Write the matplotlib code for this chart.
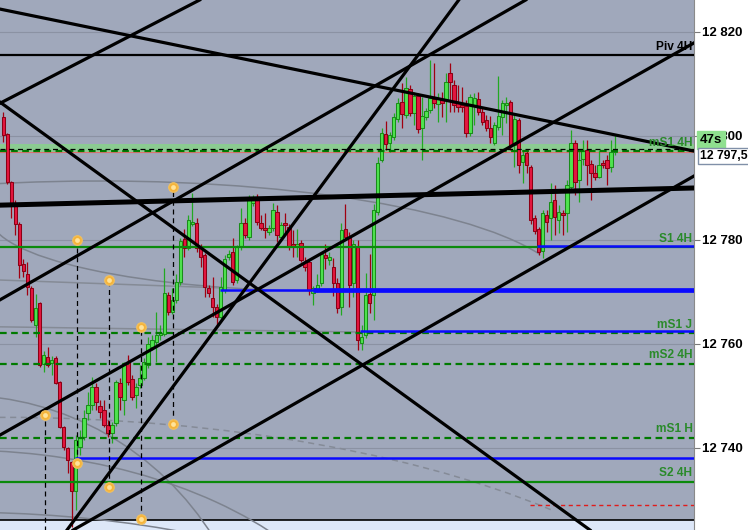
"""Intraday candlestick chart with pivot levels, trend lines and arcs."""

import matplotlib

matplotlib.use("Agg")

import matplotlib.pyplot as plt
import numpy as np
from matplotlib.patches import Arc, Rectangle
from matplotlib.ticker import FixedLocator, FuncFormatter

plt.rcParams["font.family"] = ["Liberation Sans", "DejaVu Sans"]

# candle prices, one entry per bar (bar index = position in list)
OPEN = [
    12803.7, 12800.4, 12791.2, 12787.1, 12783.1, 12775.4, 12773.5, 12770.8, 12763.7, 12767.9,
    12756.2, 12757.5, 12756.3, 12757.3, 12752.7, 12744.0, 12740.0, 12737.3, 12731.7, 12740.2,
    12742.1, 12746.7, 12748.3, 12751.7, 12748.1, 12747.3, 12744.4, 12742.9, 12744.8, 12752.5,
    12749.2, 12756.5, 12753.3, 12750.2, 12752.1, 12753.5, 12756.0, 12759.4, 12760.4, 12761.7,
    12761.9, 12769.4, 12766.2, 12768.5, 12771.9, 12780.2, 12778.5, 12783.1, 12783.3, 12778.7,
    12777.1, 12770.8, 12768.8, 12767.1, 12765.2, 12770.4, 12776.7, 12777.7, 12772.3, 12778.7,
    12783.3, 12780.6, 12787.1, 12787.7, 12783.3, 12782.3, 12781.5, 12782.3, 12785.4, 12780.6,
    12783.3, 12782.5, 12779.2, 12778.8, 12779.4, 12775.8, 12775.8, 12769.8, 12770.4, 12771.7,
    12777.1, 12776.2, 12774.8, 12771.7, 12767.1, 12782.1, 12780.6, 12771.7, 12778.7, 12760.2,
    12761.7, 12769.6, 12769.4, 12785.4, 12795.4, 12800.4, 12798.7, 12799.8, 12803.3, 12806.5,
    12804.0, 12809.0, 12804.4, 12807.7, 12801.5, 12803.7, 12805.0, 12807.1, 12806.2, 12807.1,
    12807.1, 12812.1, 12809.8, 12806.3, 12806.0, 12805.8, 12800.6, 12806.0, 12807.1, 12804.6,
    12803.1, 12801.5, 12798.7, 12801.7, 12803.7, 12806.0, 12806.5, 12798.3, 12803.1, 12795.0,
    12796.7, 12794.0, 12784.2, 12782.1, 12777.9, 12784.8, 12784.2, 12787.7, 12783.8, 12785.2,
    12785.2, 12790.2, 12798.7, 12791.5, 12795.6, 12797.3, 12794.6, 12792.9, 12792.1, 12794.8,
    12795.4, 12794.0, 12796.9,
]
HIGH = [
    12804.6, 12800.6, 12791.3, 12787.7, 12783.5, 12776.3, 12775.8, 12771.2, 12769.6, 12768.1,
    12758.7, 12759.4, 12757.7, 12757.7, 12752.9, 12744.2, 12740.2, 12737.5, 12742.5, 12743.5,
    12747.3, 12750.8, 12753.7, 12752.5, 12749.2, 12749.2, 12745.4, 12745.0, 12753.1, 12753.5,
    12756.5, 12757.9, 12754.0, 12752.5, 12756.0, 12757.3, 12761.3, 12761.7, 12766.2, 12763.7,
    12774.6, 12770.0, 12770.8, 12773.5, 12780.4, 12782.1, 12784.8, 12789.0, 12784.2, 12779.2,
    12777.5, 12771.3, 12772.9, 12767.7, 12772.9, 12777.1, 12778.1, 12780.4, 12779.0, 12786.2,
    12784.2, 12788.7, 12788.7, 12788.8, 12784.8, 12785.2, 12782.9, 12787.1, 12786.7, 12783.5,
    12785.2, 12783.1, 12781.9, 12782.1, 12780.0, 12776.7, 12776.2, 12771.2, 12773.5, 12777.7,
    12779.2, 12777.7, 12776.5, 12772.7, 12783.3, 12786.9, 12781.5, 12780.0, 12780.0, 12763.7,
    12773.7, 12777.3, 12786.9, 12796.0, 12801.5, 12802.9, 12800.8, 12804.4, 12807.3, 12810.2,
    12811.3, 12809.8, 12808.5, 12808.3, 12807.5, 12805.4, 12814.6, 12814.0, 12808.3, 12808.5,
    12812.1, 12814.0, 12810.8, 12809.8, 12809.4, 12806.9, 12808.1, 12808.3, 12808.5, 12805.4,
    12804.0, 12803.8, 12802.7, 12811.5, 12806.9, 12807.5, 12806.9, 12804.0, 12803.5, 12797.3,
    12797.3, 12794.4, 12784.8, 12782.5, 12785.8, 12785.8, 12791.0, 12790.6, 12786.7, 12785.8,
    12791.5, 12801.2, 12799.2, 12797.3, 12799.2, 12799.2, 12795.4, 12794.4, 12797.3, 12795.4,
    12796.3, 12799.2, 12800.2,
]
LOW = [
    12798.8, 12790.8, 12784.2, 12781.0, 12772.7, 12772.9, 12769.4, 12764.2, 12761.3, 12755.6,
    12754.6, 12755.6, 12754.0, 12752.3, 12743.8, 12739.6, 12735.2, 12724.8, 12728.1, 12738.7,
    12741.5, 12745.4, 12747.3, 12747.3, 12745.8, 12744.0, 12742.1, 12741.0, 12744.2, 12747.3,
    12746.3, 12752.1, 12749.2, 12747.7, 12751.5, 12753.1, 12755.4, 12758.8, 12756.5, 12760.8,
    12761.5, 12765.6, 12765.8, 12767.9, 12771.3, 12776.7, 12778.1, 12782.7, 12777.7, 12774.8,
    12769.0, 12769.0, 12765.2, 12763.3, 12764.6, 12769.8, 12776.2, 12771.3, 12771.7, 12778.1,
    12780.4, 12780.0, 12786.5, 12782.9, 12781.9, 12780.4, 12781.0, 12781.7, 12779.6, 12780.0,
    12781.0, 12778.1, 12776.7, 12776.7, 12775.8, 12774.0, 12769.4, 12767.5, 12770.0, 12771.2,
    12774.4, 12775.2, 12769.2, 12766.0, 12765.6, 12780.0, 12767.1, 12769.0, 12758.8, 12758.8,
    12761.2, 12766.0, 12764.6, 12784.8, 12795.0, 12797.3, 12796.9, 12799.2, 12802.7, 12801.5,
    12803.5, 12803.8, 12802.1, 12800.6, 12795.4, 12803.1, 12804.4, 12805.4, 12802.7, 12803.7,
    12802.7, 12804.6, 12804.6, 12804.6, 12804.6, 12799.8, 12800.0, 12802.1, 12804.0, 12802.1,
    12801.0, 12798.7, 12798.3, 12801.2, 12800.2, 12802.5, 12797.3, 12794.0, 12792.9, 12791.0,
    12792.9, 12783.1, 12781.2, 12777.1, 12776.5, 12781.5, 12780.0, 12781.0, 12781.3, 12781.0,
    12781.5, 12789.6, 12788.7, 12787.3, 12794.4, 12790.6, 12787.7, 12791.5, 12791.9, 12793.8,
    12790.6, 12793.1, 12796.3,
]
CLOSE = [
    12800.2, 12791.2, 12787.1, 12783.1, 12775.2, 12774.0, 12771.0, 12764.6, 12766.9, 12756.0,
    12757.9, 12756.0, 12756.9, 12752.5, 12744.0, 12740.2, 12737.7, 12731.7, 12741.5, 12741.9,
    12745.8, 12748.3, 12751.7, 12748.8, 12746.9, 12744.4, 12742.9, 12744.4, 12752.7, 12749.8,
    12756.0, 12752.7, 12749.8, 12751.7, 12753.5, 12756.5, 12760.0, 12760.8, 12761.7, 12762.1,
    12769.8, 12766.2, 12768.5, 12771.9, 12779.8, 12778.5, 12783.8, 12783.5, 12778.5, 12776.7,
    12771.0, 12769.8, 12767.1, 12765.2, 12771.0, 12776.3, 12777.3, 12771.9, 12778.7, 12783.3,
    12781.0, 12787.7, 12787.7, 12783.5, 12782.3, 12781.9, 12782.3, 12785.8, 12781.0, 12782.9,
    12782.9, 12778.7, 12778.7, 12779.2, 12776.2, 12774.8, 12770.4, 12770.8, 12771.3, 12777.3,
    12776.5, 12776.7, 12771.7, 12766.9, 12781.9, 12780.6, 12771.3, 12779.2, 12760.8, 12761.3,
    12769.4, 12767.9, 12785.8, 12794.8, 12800.6, 12798.5, 12800.2, 12803.7, 12806.3, 12804.2,
    12809.2, 12804.4, 12807.7, 12801.3, 12803.8, 12804.8, 12807.3, 12806.3, 12807.1, 12806.3,
    12810.4, 12810.4, 12806.0, 12805.6, 12805.6, 12800.6, 12807.5, 12807.3, 12804.6, 12802.7,
    12801.5, 12799.8, 12802.1, 12803.8, 12806.3, 12806.3, 12798.3, 12803.3, 12794.4, 12796.3,
    12794.4, 12783.8, 12781.7, 12777.7, 12785.2, 12783.5, 12787.3, 12784.4, 12785.4, 12784.8,
    12790.6, 12798.7, 12791.2, 12795.4, 12797.1, 12794.4, 12792.9, 12792.1, 12794.4, 12794.4,
    12793.8, 12796.9, 12797.5,
]

# pivot levels drawn across the whole chart
LEVEL_NAMES = ["Piv 4H", "mS1 4H", "S1 4H", "mS1 J", "mS2 4H", "mS1 H", "S2 4H"]
LEVEL_PRICES = [12815.6, 12797.1, 12778.6, 12762.1, 12756.2, 12742.0, 12733.5]

# blue support lines: start bar and price, they run to the right edge
BLUE_START = [132.6, 53.8, 88.6, 17.8]
BLUE_PRICES = [12778.8, 12770.4, 12762.5, 12738.1]
BLUE_THICK_FROM = 76.9  # the 12770.4 line gets heavier from this bar

RED_DASH_START = 130.9
RED_DASH_PRICE = 12729.1
BID_PRICE = 12797.5
BAND = (12796.9, 12798.5)
ZONE_TOP = 12726.2

# trend lines as (bar, price) pairs
TREND_LINES = [
    ((-0.8, 12824.4), (171.6, 12797.1)),
    ((-0.8, 12806.5), (145.8, 12724.2)),
    ((-0.8, 12768.5), (129.9, 12826.2)),
    ((-0.8, 12742.5), (171.6, 12817.9)),
    ((15.8, 12724.2), (113.2, 12826.2)),
    ((17.3, 12724.2), (171.6, 12792.3)),
    ((-0.8, 12806.3), (48.9, 12826.2)),
]
THICK_LINE = ((-0.8, 12786.7), (171.6, 12790.0))

GRAY_SEGMENTS = [
    ((-0.8, 12763.3), (88.6, 12762.3)),
    ((-0.8, 12772.3), (53.8, 12770.8)),
]
# arcs: centre bar, centre price, width (bars), height (price), theta1, theta2
ARCS = [
    (24.0, 12769.6, 233.5, 43.5, 4, 180),
    (81.2, 12784.4, 168.9, 28.5, 180, 270),
    (-10.8, 12691.5, 149.1, 117.3, 0, 120),
    (-10.8, 12691.5, 208.7, 96.2, 0, 120),
    (-10.8, 12691.5, 248.4, 72.3, 0, 120),
]
DASHED_ARC = (-0.8, 12691.5, 370.2, 108.8, 15, 100)

DOT_X = [10.4, 18.3, 26.3, 34.2, 42.2]
DOT_UPPER = [12746.3, 12780.0, 12772.3, 12763.3, 12790.2]
DOT_LOWER = [12722.0, 12737.1, 12732.5, 12726.3, 12744.6]

Y_TICKS = [12740, 12760, 12780, 12800, 12820]
X_RANGE = (-0.82, 171.6)
Y_RANGE = (12724.23, 12826.15)

BG = "#a0a8bb"
GREEN_LVL = "#0b8a0b"
LABEL_GREEN = "#2a8a2a"


def draw_candles(ax):
    o, h, l, c = (np.array(v) for v in (OPEN, HIGH, LOW, CLOSE))
    x = np.arange(len(o))
    up = c >= o
    for mask, face, edge, wick in ((up, "#4fe34f", "#1a8c1a", "#22a822"),
                                   (~up, "#e3173f", "#8c0014", "#a00010")):
        ax.vlines(x[mask], l[mask], h[mask], color=wick, lw=0.9, zorder=3)
        body = np.maximum(np.abs(c - o), 0.25)
        ax.bar(x[mask], body[mask], bottom=np.minimum(o, c)[mask], width=0.86,
               color=face, edgecolor=edge, linewidth=0.75, zorder=3.5)


def draw_background(ax):
    for cx, cy, w, hgt, t1, t2 in ARCS:
        ax.add_patch(Arc((cx, cy), w, hgt, theta1=t1, theta2=t2, color="#7d838f", lw=1.1, zorder=1.5))
    cx, cy, w, hgt, t1, t2 = DASHED_ARC
    ax.add_patch(Arc((cx, cy), w, hgt, theta1=t1, theta2=t2, color="#858b97", lw=1.1,
                     linestyle=(0, (4, 3)), zorder=1.5))
    for (x0, y0), (x1, y1) in GRAY_SEGMENTS:
        ax.plot([x0, x1], [y0, y1], color="#858b96", lw=1.1, zorder=1.5)
    for t in Y_TICKS:
        ax.axhline(t, color="#8b92a3", lw=0.8, zorder=1)
    ax.add_patch(Rectangle((X_RANGE[0], Y_RANGE[0]), X_RANGE[1] - X_RANGE[0], ZONE_TOP - Y_RANGE[0],
                           facecolor="#dde7f8", edgecolor="none", zorder=1.2))
    ax.axhline(ZONE_TOP, color="black", lw=1.2, zorder=1.3)


def draw_levels(ax):
    ax.axhspan(*BAND, color="#84d884", alpha=0.75, lw=0, zorder=2)
    ax.axhline(BAND[0], color="#e07070", lw=0.8, zorder=2.1)
    ax.axhline(BID_PRICE, color="black", lw=0.9, linestyle=(0, (4, 3)), zorder=4.2)
    for name, price in zip(LEVEL_NAMES, LEVEL_PRICES):
        if name.startswith("Piv"):
            ax.axhline(price, color="black", lw=1.6, zorder=4)
            color = "black"
        elif name.startswith("m"):
            ax.axhline(price, color="#007a00", lw=1.6, linestyle=(0, (3, 2)), zorder=4)
            color = LABEL_GREEN
        else:
            ax.axhline(price, color=GREEN_LVL, lw=1.6, zorder=4)
            color = LABEL_GREEN
        ax.text(X_RANGE[1] - 0.4, price + 0.45, name, ha="right", va="bottom",
                fontsize=8.6, fontweight="bold", color=color, zorder=6)
    for start, price in zip(BLUE_START, BLUE_PRICES):
        ax.plot([start, X_RANGE[1]], [price, price], color="#0a0aff", lw=1.8, zorder=4.1,
                solid_capstyle="butt")
    ax.plot([BLUE_THICK_FROM, X_RANGE[1]], [BLUE_PRICES[1]] * 2, color="#0a0aff", lw=3.4,
            zorder=4.1, solid_capstyle="butt")
    ax.plot([RED_DASH_START, X_RANGE[1]], [RED_DASH_PRICE] * 2, color="#e01c1c", lw=1.0,
            linestyle=(0, (3, 2.5)), zorder=4)


def draw_trend_lines(ax):
    for p0, p1 in TREND_LINES:
        ax.axline(p0, p1, color="black", lw=2.3, zorder=5)
    ax.axline(THICK_LINE[0], THICK_LINE[1], color="black", lw=3.6, zorder=5)


def draw_markers(ax):
    for x, top, bottom in zip(DOT_X, DOT_UPPER, DOT_LOWER):
        ax.plot([x, x], [bottom, top], color="black", lw=0.9, linestyle=(0, (4, 3)), zorder=5.5)
    ax.scatter(DOT_X + DOT_X, DOT_UPPER + DOT_LOWER, s=48, color="#f6b43a",
               edgecolor="#f0c060", linewidth=0.8, zorder=6)
    ax.scatter(DOT_X + DOT_X, DOT_UPPER + DOT_LOWER, s=12, color="#ffe39a", lw=0, zorder=6.1)


def style_axis(ax):
    ax.set_facecolor(BG)
    ax.set_xlim(*X_RANGE)
    ax.set_ylim(*Y_RANGE)
    ax.set_xticks([])
    ax.yaxis.tick_right()
    ax.yaxis.set_major_locator(FixedLocator(Y_TICKS))
    ax.yaxis.set_major_formatter(FuncFormatter(lambda v, _: f"{int(v):,}".replace(",", " ")))
    ax.tick_params(axis="y", length=4, width=0.8, color="#7a7a7a", pad=1.5, labelsize=9.5)
    for lab in ax.get_yticklabels():
        lab.set_fontweight("bold")
    for side in ("top", "left", "bottom"):
        ax.spines[side].set_visible(False)
    ax.spines["right"].set_color("#8a8a8a")


def main():
    fig = plt.figure(figsize=(7.48, 5.30), dpi=100, facecolor="white")
    ax = fig.add_axes([0, 0, 694 / 748, 1])
    style_axis(ax)
    draw_background(ax)
    draw_candles(ax)
    draw_levels(ax)
    draw_trend_lines(ax)
    draw_markers(ax)

    # countdown and last price boxes on the price scale
    fig.text(700 / 748, 1 - 140 / 530, "47s", ha="left", va="center", fontsize=9.5, fontweight="bold",
             bbox=dict(boxstyle="square,pad=0.2", facecolor="#8fe08f", edgecolor="#8fe08f"))
    fig.text(700 / 748, 1 - 156 / 530, f"{BID_PRICE:,.1f}".replace(",", " ").replace(".", ","),
             ha="left", va="center", fontsize=8.8, fontweight="bold",
             bbox=dict(boxstyle="square,pad=0.15", facecolor="white", edgecolor="#8090a8"))

    fig.savefig("out.png", dpi=100)


if __name__ == "__main__":
    main()
